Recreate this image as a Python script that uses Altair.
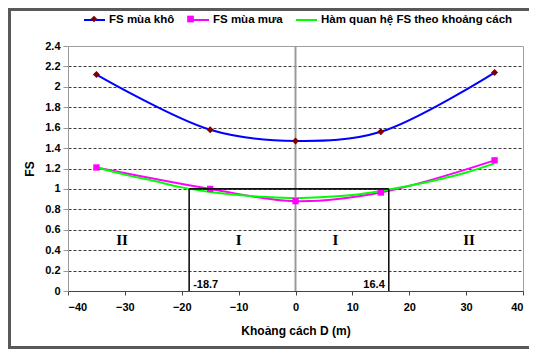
import altair as alt
import pandas as pd

# ---------------- data ----------------
series = ["FS mùa khô", "FS mùa mưa", "Hàm quan hệ FS theo khoảng cách"]
line_colors = ["#0000FF", "#FF00FF", "#00FF00"]
dry_marker_color = "#800000"
wet_marker_color = "#FF00FF"

x_pts = [-35, -15, 0, 15, 35]
fs_dry = [2.12, 1.58, 1.47, 1.56, 2.14]
fs_wet = [1.21, 1.00, 0.88, 0.965, 1.28]

fit_x = [-35, -30, -25, -20, -15, -10, -5, 0, 5, 10, 15, 20, 25, 30, 35]
fit_fs = [1.21, 1.14, 1.08, 1.015, 0.97, 0.94, 0.92, 0.91, 0.92, 0.94, 0.98, 1.03, 1.09, 1.16, 1.25]

bound_x = [-18.7, 16.4]
bound_fs = 1.0
zone_x = [-30.5, -10, 7, 30.5]
zone_text = ["II", "I", "I", "II"]
zone_fs = 0.5

x_ticks = [-40, -30, -20, -10, 0, 10, 20, 30, 40]
y_ticks = [0, 0.2, 0.4, 0.6, 0.8, 1.0, 1.2, 1.4, 1.6, 1.8, 2.0, 2.2, 2.4]

# ---------------- tables ----------------
rows = []
for xv, yv in zip(x_pts, fs_dry):
    rows.append({"x": xv, "fs": yv, "series": series[0]})
for xv, yv in zip(x_pts, fs_wet):
    rows.append({"x": xv, "fs": yv, "series": series[1]})
for xv, yv in zip(fit_x, fit_fs):
    rows.append({"x": xv, "fs": yv, "series": series[2]})
df = pd.DataFrame(rows)

df_vert = pd.DataFrame({"x": bound_x, "fs": [0] * len(bound_x), "fs2": [bound_fs] * len(bound_x)})
df_horiz = pd.DataFrame({"x": [bound_x[0]], "x2": [bound_x[1]], "fs": [bound_fs]})
df_blabel_l = pd.DataFrame({"x": [bound_x[0]], "fs": [0], "t": [str(bound_x[0])]})
df_blabel_r = pd.DataFrame({"x": [bound_x[1]], "fs": [0], "t": [str(bound_x[1])]})
df_zone = pd.DataFrame({"x": zone_x, "fs": [zone_fs] * len(zone_x), "t": zone_text})
df_zero = pd.DataFrame({"x": [0]})

W, H = 455, 245
PAD = {"left": 60, "top": 38, "right": 6, "bottom": 58}
FONT = "Arial"

xscale = alt.Scale(domain=[-40, 40], nice=False, zero=False)
yscale = alt.Scale(domain=[0, 2.4], nice=False, zero=False)

grid_color = {"condition": {"test": "datum.value >= 2.39 || datum.value <= 0.01", "value": "transparent"},
              "value": "#3a3a3a"}

x_axis = alt.Axis(values=x_ticks, title="Khoảng cách D (m)", grid=False,
                  labelFont=FONT, labelFontWeight="bold", labelFontSize=11, labelColor="black",
                  labelPadding=6, tickSize=4, tickColor="#444", domainColor="#444",
                  titleFont=FONT, titleFontWeight="bold", titleFontSize=12, titleColor="black",
                  titlePadding=13)
y_axis = alt.Axis(values=y_ticks, format=".1~f", title="FS", grid=True, gridDash=[3, 2],
                  gridColor=grid_color, gridWidth=1,
                  labelFont=FONT, labelFontWeight="bold", labelFontSize=11, labelColor="black",
                  labelPadding=3, tickSize=5, tickColor="#999", domainColor="#999",
                  titleFont=FONT, titleFontWeight="bold", titleFontSize=12, titleColor="black",
                  titlePadding=8)


def X(field="x"):
    return alt.X(f"{field}:Q", scale=xscale, axis=x_axis)


def Y(field="fs"):
    return alt.Y(f"{field}:Q", scale=yscale, axis=y_axis)


LEG_Y = -37.5
legA = alt.Legend(title=None, orient="none", legendX=15, legendY=LEG_Y, direction="horizontal",
                  columns=3, symbolType="stroke", symbolSize=441, symbolStrokeWidth=2,
                  labelFont=FONT, labelFontWeight="bold", labelFontSize=11.5, labelColor="black",
                  labelOffset=3, columnPadding=9, padding=0, labelLimit=400)


def marker_legend(lx, shape):
    return alt.Legend(title=None, orient="none", legendX=lx, legendY=LEG_Y + 7, symbolType=shape,
                      symbolSize=45, symbolStrokeWidth=0, labelExpr="''", labelFontSize=1,
                      labelOffset=0, padding=0)


# ---------------- layers ----------------
frame_color = "#595959"
frame_left = alt.Chart(df_zero).mark_rule(color=frame_color, strokeWidth=3).encode(
    x=alt.value(-58.5), y=alt.value(-36.5), y2=alt.value(H + 57))
frame_top = alt.Chart(df_zero).mark_rule(color=frame_color, strokeWidth=3).encode(
    x=alt.value(-60), x2=alt.value(W + 6), y=alt.value(-36.5))
frame_bottom = alt.Chart(df_zero).mark_rule(color=frame_color, strokeWidth=3).encode(
    x=alt.value(-60), x2=alt.value(W + 6), y=alt.value(H + 56.5))

zero_line = alt.Chart(df_zero).mark_rule(color="#9a9a9a", strokeWidth=2).encode(x=X())

lines = alt.Chart(df).mark_line(interpolate="catmull-rom", strokeWidth=2).encode(
    x=X(), y=Y(),
    color=alt.Color("series:N", scale=alt.Scale(domain=series, range=line_colors), legend=legA),
)

dry_markers = alt.Chart(df).transform_filter(alt.datum.series == series[0]).mark_point(
    filled=True, opacity=1, size=50, shape="diamond", strokeWidth=0).encode(
    x=X(), y=Y(),
    fill=alt.Fill("series:N", scale=alt.Scale(domain=[series[0]], range=[dry_marker_color]),
                  legend=marker_legend(15 + 7.5, "diamond")),
)
wet_markers = alt.Chart(df).transform_filter(alt.datum.series == series[1]).mark_point(
    filled=True, opacity=1, size=40, strokeWidth=0, color=wet_marker_color).encode(
    x=X(), y=Y(),
    shape=alt.Shape("series:N", scale=alt.Scale(domain=[series[1]], range=["square"]),
                    legend=marker_legend(15 + 104, "square")),
)

rect_v = alt.Chart(df_vert).mark_rule(color="#111", strokeWidth=1.6).encode(
    x=X(), y=Y(), y2="fs2:Q")
rect_h = alt.Chart(df_horiz).mark_rule(color="#111", strokeWidth=1.6).encode(
    x=X(), x2="x2:Q", y=Y())

lab_l = alt.Chart(df_blabel_l).mark_text(align="left", baseline="bottom", dx=4, dy=-1,
                                         font=FONT, fontWeight="bold", fontSize=11, color="black").encode(
    x=X(), y=Y(), text="t:N")
lab_r = alt.Chart(df_blabel_r).mark_text(align="right", baseline="bottom", dx=-4, dy=-1,
                                         font=FONT, fontWeight="bold", fontSize=11, color="black").encode(
    x=X(), y=Y(), text="t:N")

zones = alt.Chart(df_zone).mark_text(align="center", baseline="middle", font="Liberation Serif",
                                     fontWeight="bold", fontSize=15, color="black").encode(
    x=X(), y=Y(), text="t:N")

chart = alt.layer(
    frame_left, frame_top, frame_bottom, zero_line, lines, dry_markers, wet_markers,
    rect_v, rect_h, lab_l, lab_r, zones
).properties(
    width=W, height=H, autosize=alt.AutoSizeParams(type="none"), padding=PAD,
    background="white"
).configure_view(
    stroke="#a0a0a0", strokeWidth=1
)

chart.save("out.html", embed_options={"renderer": "svg", "actions": False})
